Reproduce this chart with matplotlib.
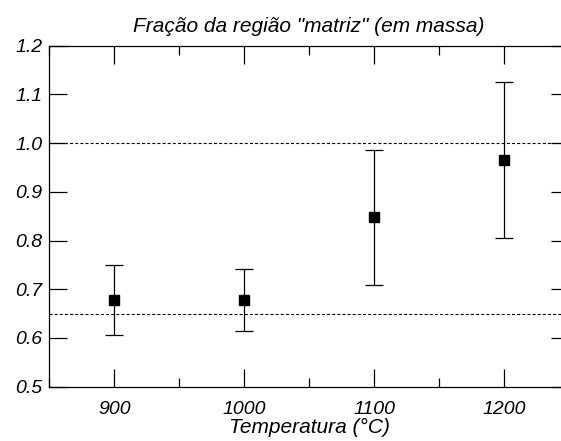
import numpy as np
import matplotlib.pyplot as plt
from matplotlib.ticker import MultipleLocator

# Temperatures and matrix mass fraction
temps = [900, 1000, 1100, 1200]
frac = [0.679, 0.678, 0.848, 0.966]
lower = [0.606, 0.614, 0.709, 0.806]
upper = [0.750, 0.742, 0.986, 1.126]

# reference levels (dashed)
ref_levels = [0.65, 1.0]

plt.rcParams['font.family'] = ['Liberation Sans', 'DejaVu Sans']
plt.rcParams['font.style'] = 'italic'
plt.rcParams['lines.scale_dashes'] = False

frac = np.array(frac)
yerr = [frac - np.array(lower), np.array(upper) - frac]

fig = plt.figure(figsize=(5.61, 4.41), dpi=100)
ax = fig.add_axes([0.0879, 0.1231, 0.9264, 0.7733])

for lvl in ref_levels:
    ax.axhline(lvl, color='black', lw=0.8, linestyle=(0, (2.2, 1.5)), zorder=1)

ax.errorbar(temps, frac, yerr=yerr, fmt='s', color='black', markersize=7,
            ecolor='black', elinewidth=0.9, capsize=6.5, capthick=0.9, zorder=3)

ax.set_xlim(850, 1250)
ax.set_ylim(0.5, 1.2)
ax.xaxis.set_major_locator(MultipleLocator(100))
ax.xaxis.set_minor_locator(MultipleLocator(50))
ax.yaxis.set_major_locator(MultipleLocator(0.1))
ax.yaxis.set_major_formatter(plt.FuncFormatter(lambda v, p: f'{v:.1f}'))
ax.set_xticks([900, 1000, 1100, 1200])

ax.tick_params(which='both', direction='in', top=True, right=True, width=0.9,
               labelsize=14, colors='black')
ax.tick_params(which='major', length=13)
ax.tick_params(which='minor', length=6.5)
ax.tick_params(axis='x', which='major', pad=10)
ax.tick_params(axis='y', which='major', pad=5)
for lbl in ax.get_xticklabels() + ax.get_yticklabels():
    lbl.set_fontstyle('italic')
for s in ax.spines.values():
    s.set_linewidth(0.9)

ax.set_title('Fração da região "matriz" (em massa)', fontsize=15,
             fontstyle='italic', pad=10)
ax.set_xlabel('Temperatura (°C)', fontsize=15, fontstyle='italic', labelpad=0)

fig.savefig('out.png', dpi=100)
